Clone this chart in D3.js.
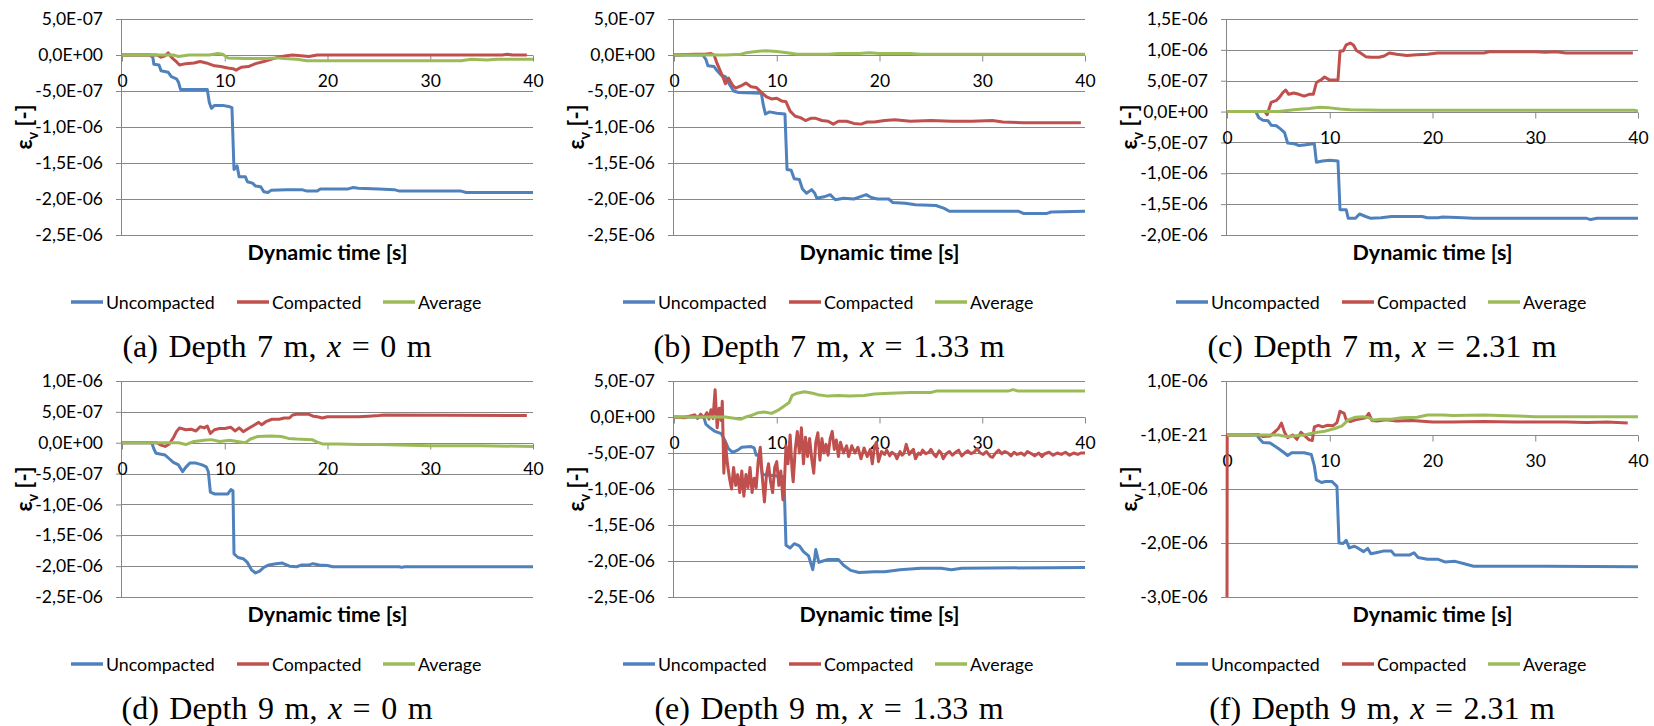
<!DOCTYPE html>
<html><head><meta charset="utf-8">
<script src="https://cdn.jsdelivr.net/npm/d3@7"></script>
<style>body{margin:0;background:#fff}svg{display:block}</style>
</head><body>
<svg id="chart" width="1654" height="726"></svg>
<script>
// values are in units of 1E-07
const UNIT = 1e-7;
const xTicks = [0, 10, 20, 30, 40];
const seriesNames = ["Uncompacted", "Compacted", "Average"];
const seriesColors = ["#4F81BD", "#C0504D", "#9BBB59"];

const yTicks7 = [5e-7, 0, -5e-7, -1e-6, -1.5e-6, -2e-6, -2.5e-6];
const yLabels7 = ["5,0E-07", "0,0E+00", "-5,0E-07", "-1,0E-06", "-1,5E-06", "-2,0E-06", "-2,5E-06"];
const yTicksC = [1.5e-6, 1e-6, 5e-7, 0, -5e-7, -1e-6, -1.5e-6, -2e-6];
const yLabelsC = ["1,5E-06", "1,0E-06", "5,0E-07", "0,0E+00", "-5,0E-07", "-1,0E-06", "-1,5E-06", "-2,0E-06"];
const yTicksD = [1e-6, 5e-7, 0, -5e-7, -1e-6, -1.5e-6, -2e-6, -2.5e-6];
const yLabelsD = ["1,0E-06", "5,0E-07", "0,0E+00", "-5,0E-07", "-1,0E-06", "-1,5E-06", "-2,0E-06", "-2,5E-06"];
const yTicksF = [1e-6, 0, -1e-6, -2e-6, -3e-6];
const yLabelsF = ["1,0E-06", "-1,0E-21", "-1,0E-06", "-2,0E-06", "-3,0E-06"];

const captions = [
  ["(a) Depth 7 m, ", "x", " = 0 m"],
  ["(b) Depth 7 m, ", "x", " = 1.33 m"],
  ["(c) Depth 7 m, ", "x", " = 2.31 m"],
  ["(d) Depth 9 m, ", "x", " = 0 m"],
  ["(e) Depth 9 m, ", "x", " = 1.33 m"],
  ["(f) Depth 9 m, ", "x", " = 2.31 m"]
];

// (a) Depth 7 m, x = 0 m
const aUncompacted = [[0,0],[2.7,0],[3.0,-0.3],[3.1,-1.3],[3.6,-1.4],[3.8,-2.2],[4.5,-2.4],[4.8,-3.0],[5.3,-3.3],[5.5,-3.8],[5.7,-4.8],[8.3,-4.8],[8.5,-6.6],[8.7,-7.4],[9.0,-7.0],[9.8,-7.0],[10.5,-7.2],[10.7,-7.3],[10.9,-15.9],[11.2,-15.4],[11.4,-16.9],[12.0,-16.9],[12.2,-17.6],[12.7,-17.8],[13.0,-18.2],[13.5,-18.3],[13.8,-19.0],[14.2,-19.1],[14.5,-18.8],[16.0,-18.7],[17.5,-18.7],[18.0,-18.9],[19.0,-18.9],[19.3,-18.6],[22.0,-18.6],[22.5,-18.4],[23.0,-18.5],[25.0,-18.6],[26.5,-18.7],[27.0,-18.9],[33.0,-18.9],[33.5,-19.1],[40,-19.1]];
const aCompacted = [[0,0],[3.4,0],[3.8,-0.3],[4.2,-0.1],[4.5,0.3],[4.8,-0.3],[5.2,-0.8],[5.6,-1.4],[6.2,-1.2],[7.0,-1.1],[7.6,-0.9],[8.2,-1.1],[9.0,-1.5],[9.6,-1.6],[10.3,-1.8],[10.8,-1.9],[11.1,-2.1],[11.6,-1.7],[12.3,-1.6],[13.0,-1.2],[13.8,-0.9],[14.5,-0.6],[15.2,-0.3],[16.0,-0.1],[16.6,0],[17.4,-0.1],[18.2,-0.2],[19.0,0],[25,0],[37,0],[37.5,0.1],[38,0],[39.4,0]];
const aAverage = [[0,0],[5,0],[5.5,-0.2],[6.5,0],[8.5,0],[9.3,0.2],[9.8,0.1],[10.3,-0.4],[12,-0.5],[14,-0.5],[15,-0.4],[15.8,-0.5],[17,-0.6],[18,-0.8],[20,-0.8],[33,-0.8],[34,-0.6],[35.5,-0.7],[36.5,-0.6],[40,-0.6]];

// (b) Depth 7 m, x = 1.33 m
const bUncompacted = [[0,0],[2.8,0],[3.1,-0.6],[3.3,-1.5],[3.9,-1.6],[4.2,-2.2],[4.6,-2.8],[5.0,-3.0],[5.4,-4.1],[5.8,-5.0],[6.3,-5.2],[8.5,-5.3],[8.7,-7.0],[8.9,-8.2],[9.3,-7.9],[10.0,-8.1],[10.8,-8.2],[11.0,-15.9],[11.4,-16.0],[11.7,-17.2],[12.2,-17.3],[12.5,-18.6],[12.9,-19.2],[13.4,-18.7],[13.7,-19.2],[13.9,-19.9],[14.6,-19.7],[15.2,-19.4],[15.7,-20.1],[16.5,-19.9],[17.5,-20.0],[18.3,-19.6],[18.7,-19.4],[19.2,-19.8],[19.8,-20.0],[20.9,-20.0],[21.3,-20.5],[22.5,-20.6],[23.5,-20.8],[25.5,-20.9],[26.3,-21.3],[26.8,-21.7],[33.5,-21.7],[34,-22.0],[36.3,-22.0],[36.7,-21.8],[40,-21.7]];
const bCompacted = [[0,0],[2.0,0.1],[3.0,0.1],[3.6,0.2],[3.9,0],[4.2,-1.2],[4.5,-2.2],[4.8,-3.2],[5.0,-4.0],[5.3,-3.2],[5.7,-4.2],[6.0,-4.6],[6.5,-4.3],[7.0,-3.9],[7.5,-4.4],[8.0,-4.5],[8.5,-5.2],[9.0,-5.8],[9.5,-6.1],[10.0,-6.0],[10.5,-6.4],[10.9,-6.5],[11.3,-7.8],[11.8,-8.5],[12.3,-8.7],[12.8,-9.1],[13.3,-8.8],[13.8,-8.8],[14.4,-9.1],[15.0,-9.2],[15.5,-9.6],[16.0,-9.2],[16.8,-9.2],[17.5,-9.5],[18.2,-9.6],[18.8,-9.3],[19.5,-9.3],[20.5,-9.1],[21.5,-9.0],[23,-9.2],[25,-9.1],[27,-9.2],[29,-9.2],[31,-9.1],[32,-9.3],[34,-9.4],[36,-9.4],[39.6,-9.4]];
const bAverage = [[0,0],[5,0],[6.5,0.1],[7,0.3],[8,0.5],[9,0.6],[10,0.5],[11,0.3],[12,0.1],[15,0.1],[16,0.2],[18,0.2],[19,0.3],[20,0.2],[23,0.2],[24,0.1],[40,0.1]];

// (c) Depth 7 m, x = 2.31 m
const cUncompacted = [[0,0],[2.8,0],[3.1,-1.0],[3.5,-1.4],[4.0,-1.5],[4.3,-2.2],[4.8,-2.3],[5.2,-2.8],[5.6,-3.4],[5.9,-5.1],[6.5,-5.2],[7.0,-5.5],[7.5,-5.4],[8.0,-5.3],[8.5,-5.2],[8.7,-8.2],[9.3,-8.0],[10.0,-7.9],[10.8,-8.0],[11.0,-15.9],[11.6,-15.9],[11.8,-17.3],[12.5,-17.3],[12.9,-16.6],[13.5,-17.0],[14.0,-17.3],[15.0,-17.2],[16.0,-17.0],[19.0,-17.0],[19.5,-17.2],[20.5,-17.2],[21,-17.1],[23.0,-17.2],[24.0,-17.3],[35,-17.3],[35.4,-17.5],[36.0,-17.3],[40,-17.3]];
const cCompacted = [[0,0],[3.7,0],[3.9,-0.5],[4.1,0.5],[4.3,1.5],[4.8,1.8],[5.1,2.3],[5.4,3.0],[5.7,3.5],[6.0,2.8],[6.5,3.0],[7.0,2.8],[7.5,2.5],[8.0,2.8],[8.4,2.8],[8.7,4.7],[9.2,5.2],[9.5,5.6],[10.0,5.1],[10.8,5.1],[11.0,9.8],[11.3,9.8],[11.6,10.8],[12.0,11.1],[12.3,10.8],[12.6,9.9],[13.0,9.5],[13.5,8.9],[14.0,8.8],[14.8,8.8],[15.3,9.0],[15.8,9.5],[16.5,9.3],[17.5,9.1],[18.5,9.2],[19.5,9.3],[20.5,9.5],[25,9.5],[25.5,9.7],[30,9.7],[31,9.6],[32,9.7],[33,9.5],[39.5,9.5]];
const cAverage = [[0,0],[5,0],[6.5,0.3],[8,0.5],[9,0.7],[10,0.6],[11,0.4],[12,0.3],[15,0.2],[20,0.2],[39.7,0.2],[40,0.05]];

// (d) Depth 9 m, x = 0 m
const dUncompacted = [[0,0],[2.9,0],[3.1,-1.0],[3.3,-1.7],[4.2,-2.0],[4.6,-2.6],[5.0,-3.2],[5.5,-3.6],[5.9,-4.7],[6.2,-4.0],[6.6,-3.3],[7.2,-3.3],[7.8,-3.6],[8.2,-3.9],[8.4,-4.7],[8.6,-8.0],[9.0,-8.3],[10.3,-8.3],[10.6,-7.6],[10.8,-7.8],[10.9,-18.0],[11.3,-18.6],[11.8,-18.8],[12.2,-19.4],[12.6,-20.6],[13.0,-21.1],[13.4,-20.8],[13.8,-20.2],[14.3,-19.8],[15.0,-19.6],[15.6,-19.5],[16.3,-20.0],[17.0,-20.1],[17.5,-19.8],[18.2,-19.8],[18.6,-19.6],[19.2,-19.8],[20.0,-19.9],[20.5,-20.1],[27,-20.1],[27.2,-20.2],[27.5,-20.1],[40,-20.1]];
const dCompacted = [[0,0],[3.4,0],[3.8,-0.4],[4.2,-0.6],[4.6,-0.2],[5.0,0.8],[5.3,1.8],[5.6,2.4],[6.2,2.1],[6.7,2.2],[7.2,1.9],[7.6,2.6],[8.0,2.4],[8.3,2.7],[8.6,1.5],[9.0,2.1],[9.5,2.3],[10.0,2.3],[10.6,2.5],[11.0,1.9],[11.4,2.4],[11.8,1.8],[12.3,2.3],[12.8,2.8],[13.3,3.3],[13.6,2.9],[14.0,3.4],[14.6,3.8],[15.3,3.8],[15.8,4.0],[16.3,4.0],[16.6,4.5],[17.0,4.6],[18.2,4.6],[18.6,4.3],[19.0,4.2],[19.5,4.0],[20,4.2],[23,4.2],[24,4.3],[25,4.4],[25.5,4.5],[39.4,4.4]];
const dAverage = [[0,0],[5.5,0],[6.2,-0.3],[7,0.2],[8,0.4],[8.7,0.5],[9.5,0.2],[10.5,0.4],[11.2,0.2],[12,0],[12.5,0.6],[13.2,1.0],[14.5,1.1],[15.5,1.0],[16.2,0.7],[17,0.6],[18.5,0.5],[19,0.1],[19.5,-0.2],[21,-0.2],[23,-0.3],[25,-0.3],[30,-0.5],[35,-0.5],[40,-0.6]];

// (e) Depth 9 m, x = 1.33 m
const eUncompacted = [[0,0],[2.9,0],[3.1,-1.0],[3.5,-1.5],[4.0,-2.0],[4.6,-2.3],[5.0,-3.4],[5.3,-4.4],[5.7,-4.9],[6.2,-4.6],[6.6,-4.2],[7.5,-4.1],[7.8,-4.3],[8.0,-5.3],[8.3,-5.4],[8.6,-8.0],[10.7,-8.3],[10.9,-17.8],[11.3,-18.2],[11.7,-17.6],[12.2,-17.9],[12.6,-18.7],[13.1,-19.3],[13.5,-21.2],[13.7,-19.5],[13.8,-18.4],[14.1,-20.2],[14.5,-20.0],[15.0,-19.8],[16.0,-19.8],[16.5,-20.6],[17.2,-21.3],[18.0,-21.6],[19.5,-21.5],[20.5,-21.5],[22,-21.2],[24,-21.0],[26,-21.0],[27,-21.2],[28,-21.0],[40,-20.9]];
const eCompacted = [[0,0],[1,-0.1],[1.5,0.1],[2,0.3],[2.3,-0.2],[2.6,0.4],[2.9,-0.1],[3.2,0.6],[3.4,-0.3],[3.6,1.0],[3.8,-0.2],[4.0,3.8],[4.2,-1.5],[4.4,1.2],[4.6,-0.5],[4.7,2.2],[4.85,-7.8],[5.0,-3.5],[5.2,-6.5],[5.4,-8.5],[5.6,-10.0],[5.8,-7.0],[6.0,-9.5],[6.2,-8.0],[6.4,-10.5],[6.6,-7.5],[6.8,-11.0],[7.0,-8.0],[7.2,-9.8],[7.4,-7.0],[7.6,-10.5],[7.8,-8.5],[8.0,-9.8],[8.2,-6.0],[8.4,-4.2],[8.6,-8.5],[8.8,-11.8],[9.0,-8.0],[9.2,-6.5],[9.4,-9.0],[9.6,-10.5],[9.8,-7.0],[10.0,-6.2],[10.2,-9.5],[10.4,-7.5],[10.6,-11.5],[10.75,-9.0],[10.9,-4.0],[11.1,-6.5],[11.3,-2.5],[11.5,-7.5],[11.6,-9.0],[11.8,-4.5],[12.0,-2.0],[12.2,-5.0],[12.4,-1.5],[12.6,-6.5],[12.8,-2.8],[13.0,-5.5],[13.2,-3.0],[13.4,-5.8],[13.6,-7.8],[13.8,-3.5],[14.0,-2.2],[14.2,-6.0],[14.4,-3.0],[14.6,-5.0],[14.8,-3.8],[15.0,-5.3],[15.2,-3.0],[15.4,-2.0],[15.6,-4.5],[15.8,-3.2],[16.0,-5.5],[16.2,-3.5],[16.5,-5.0],[16.8,-4.0],[17.0,-5.5],[17.3,-4.0],[17.6,-5.0],[17.9,-4.2],[18.2,-5.8],[18.5,-4.3],[18.8,-5.5],[19.1,-4.5],[19.3,-6.5],[19.5,-4.2],[19.7,-3.5],[19.9,-6.2],[20.2,-4.8],[20.5,-5.2],[20.7,-4.6],[21.0,-5.4],[21.2,-4.9],[21.5,-5.2],[21.7,-5.8],[22.0,-4.8],[22.2,-5.3],[22.4,-5.0],[22.6,-3.8],[22.9,-5.2],[23.1,-4.8],[23.3,-4.5],[23.5,-5.8],[23.8,-5.0],[24.0,-5.2],[24.2,-4.6],[24.5,-5.1],[24.8,-4.9],[25.0,-4.5],[25.3,-5.2],[25.5,-5.5],[25.8,-4.7],[26.0,-5.0],[26.2,-5.8],[26.5,-5.1],[26.8,-4.8],[27.1,-5.3],[27.4,-4.9],[27.7,-4.6],[28.0,-5.4],[28.3,-5.0],[28.6,-4.7],[28.9,-5.1],[29.2,-4.9],[29.5,-4.4],[29.8,-5.0],[30.1,-5.2],[30.4,-4.8],[30.8,-5.5],[31.0,-5.6],[31.3,-5.0],[31.6,-4.6],[31.9,-5.1],[32.2,-4.8],[32.5,-5.0],[32.8,-5.4],[33.1,-4.9],[33.4,-5.2],[33.8,-5.0],[34.1,-5.3],[34.4,-4.8],[34.8,-5.1],[35.1,-5.4],[35.5,-5.0],[35.8,-5.5],[36.1,-5.1],[36.5,-4.9],[36.9,-5.3],[37.3,-5.0],[37.7,-5.2],[38.1,-4.9],[38.5,-5.3],[38.9,-5.0],[39.3,-5.2],[39.6,-5.0],[40,-5.0]];
const eAverage = [[0,0],[5,0],[6,-0.2],[6.5,-0.3],[7,0],[7.5,0.2],[8.2,0.6],[8.8,0.7],[9.5,0.5],[10.2,1.0],[10.8,1.6],[11.2,2.0],[11.5,3.0],[12,3.3],[12.7,3.5],[13.5,3.3],[14,3.1],[15,2.9],[16,3.0],[17,2.9],[18.5,3.0],[19.5,3.2],[21,3.3],[23,3.4],[25,3.4],[25.5,3.6],[32.5,3.6],[33,3.8],[33.5,3.6],[40,3.6]];

// (f) Depth 9 m, x = 2.31 m
const fUncompacted = [[0,0],[2.9,0],[3.2,-0.8],[3.5,-1.4],[4.2,-1.5],[4.6,-2.0],[5.0,-2.5],[5.5,-3.2],[5.9,-3.8],[6.3,-3.3],[7.5,-3.3],[8.2,-3.6],[8.5,-5.7],[8.7,-8.3],[9.2,-8.8],[9.6,-8.6],[10.2,-8.6],[10.7,-9.5],[10.9,-20.0],[11.3,-20.1],[11.6,-19.5],[11.9,-20.9],[12.4,-20.6],[12.8,-21.0],[13.3,-21.6],[13.7,-21.0],[14.0,-22.0],[14.5,-21.8],[15.2,-21.5],[16.0,-21.5],[16.3,-22.2],[17.8,-22.2],[18.2,-21.8],[18.6,-22.7],[19.5,-23.0],[20.5,-23.0],[21.2,-23.5],[22.2,-23.4],[23.0,-23.8],[24.0,-24.3],[31,-24.3],[40,-24.4]];
const fCompacted = [[0,-30],[0.02,0],[2,0],[3,0.1],[3.5,-0.3],[4.2,-0.2],[4.6,0.5],[5.0,1.2],[5.3,2.2],[5.6,0.5],[5.9,-0.5],[6.4,0],[6.8,-0.8],[7.2,0.5],[7.6,-0.2],[8.0,-0.9],[8.3,-1.0],[8.5,1.5],[8.9,1.8],[9.3,1.5],[9.8,1.8],[10.3,1.7],[10.7,2.3],[11.0,4.4],[11.4,4.0],[11.6,2.8],[12.0,2.5],[12.5,2.8],[13.0,3.0],[13.5,3.2],[13.8,4.0],[14.1,2.7],[14.6,2.6],[15.5,2.8],[16.5,2.6],[18,2.7],[20,2.4],[22,2.4],[25,2.5],[28,2.4],[33,2.4],[35,2.3],[37,2.4],[39,2.2]];
const fAverage = [[0,0],[5,0],[5.8,-0.3],[6.5,-0.2],[7.5,0],[8.5,0.4],[9.5,0.7],[10.5,1.2],[11.2,1.7],[11.8,2.8],[12.5,3.3],[13.2,3.4],[13.8,3.2],[14.2,2.8],[15,2.9],[16,2.9],[17,3.2],[18.5,3.3],[19.5,3.7],[21,3.7],[22,3.6],[25,3.7],[26.5,3.6],[30,3.4],[40,3.4]];

const panels = [
  {col: 0, row: 0, yTicks: yTicks7, yLabels: yLabels7, series: [aUncompacted, aCompacted, aAverage]},
  {col: 1, row: 0, yTicks: yTicks7, yLabels: yLabels7, series: [bUncompacted, bCompacted, bAverage]},
  {col: 2, row: 0, yTicks: yTicksC, yLabels: yLabelsC, series: [cUncompacted, cCompacted, cAverage]},
  {col: 0, row: 1, yTicks: yTicksD, yLabels: yLabelsD, series: [dUncompacted, dCompacted, dAverage]},
  {col: 1, row: 1, yTicks: yTicks7, yLabels: yLabels7, series: [eUncompacted, eCompacted, eAverage]},
  {col: 2, row: 1, yTicks: yTicksF, yLabels: yLabelsF, series: [fUncompacted, fCompacted, fAverage]}
];

// ---- layout ----
const colLeft = [122, 674, 1227];
const rowTop = [19, 381];
const plotW = 411, plotH = 216;
const gridColor = "#878787";
const sansFont = "Lato, 'Open Sans', sans-serif";

const svg = d3.select("#chart");

panels.forEach((p, i) => {
  const left = colLeft[p.col], top = rowTop[p.row];
  const g = svg.append("g").attr("transform", `translate(${left},${top})`);
  const x = d3.scaleLinear().domain([0, 40]).range([0, plotW]);
  const y = d3.scaleLinear().domain(d3.extent(p.yTicks)).range([plotH, 0]);
  const y0 = y(0);

  // horizontal gridlines
  g.append("g").selectAll("line").data(p.yTicks).join("line")
    .attr("x1", 0).attr("x2", plotW)
    .attr("y1", d => Math.round(y(d)) + 0.5).attr("y2", d => Math.round(y(d)) + 0.5)
    .attr("stroke", gridColor).attr("stroke-width", 1);

  // y axis
  const yAxis = d3.axisLeft(y).tickValues(p.yTicks).tickSize(6).tickPadding(13)
    .tickFormat((d, k) => p.yLabels[k]);
  const ya = g.append("g").call(yAxis);
  ya.select(".domain").attr("stroke", gridColor).attr("d", `M-0.5,${plotH}V0`);
  ya.selectAll(".tick line").attr("stroke", gridColor);
  ya.selectAll(".tick text").attr("font-family", sansFont).attr("font-size", 17.5).attr("fill", "#000");

  // x axis at zero
  const xAxis = d3.axisBottom(x).tickValues(xTicks).tickSize(6).tickPadding(13).tickFormat(d3.format("d"));
  const xa = g.append("g").attr("transform", `translate(0,${Math.round(y0) + 0.5})`).call(xAxis);
  xa.select(".domain").attr("stroke", gridColor).attr("d", `M0,0H${plotW}`);
  xa.selectAll(".tick line").attr("stroke", gridColor);
  xa.selectAll(".tick text").attr("font-family", sansFont).attr("font-size", 17.5).attr("fill", "#000");

  // series lines
  const line = d3.line().x(d => x(d[0])).y(d => y(d[1] * UNIT));
  p.series.forEach((s, si) => {
    g.append("path").datum(s).attr("d", line)
      .attr("fill", "none").attr("stroke", seriesColors[si])
      .attr("stroke-width", 3).attr("stroke-linejoin", "round").attr("stroke-linecap", "butt");
  });

  // axis title
  g.append("text").attr("x", plotW / 2).attr("y", 241)
    .attr("text-anchor", "middle").attr("font-family", sansFont).attr("font-weight", "bold")
    .attr("font-size", 21.5).attr("fill", "#000").text("Dynamic time [s]");

  // y label
  const yl = g.append("text").attr("transform", `translate(-90,${plotH / 2}) rotate(-90)`)
    .attr("text-anchor", "middle").attr("font-family", sansFont).attr("font-weight", "bold")
    .attr("font-size", 22).attr("fill", "#000");
  yl.append("tspan").text("ε");
  yl.append("tspan").attr("font-size", 14.5).attr("dy", 6).text("v");
  yl.append("tspan").attr("dy", -6).text(" [-]");

  // legend
  const offs = [0, 166, 312];
  const lg = g.append("g").attr("transform", `translate(-51,283)`);
  seriesNames.forEach((n, si) => {
    lg.append("line").attr("x1", offs[si]).attr("x2", offs[si] + 32).attr("y1", 0).attr("y2", 0)
      .attr("stroke", seriesColors[si]).attr("stroke-width", 3.5);
    lg.append("text").attr("x", offs[si] + 35).attr("y", 6.5)
      .attr("font-family", sansFont).attr("font-size", 17.8).attr("fill", "#000").text(n);
  });

  // caption
  const c = captions[i];
  const ct = g.append("text").attr("x", 155).attr("y", 338).attr("text-anchor", "middle")
    .attr("font-family", "'Liberation Serif', serif").attr("font-size", 32)
    .attr("word-spacing", 2.5).attr("fill", "#000");
  ct.append("tspan").text(c[0]);
  ct.append("tspan").attr("font-style", "italic").text(c[1]);
  ct.append("tspan").text(c[2]);
});
</script>
</body></html>
